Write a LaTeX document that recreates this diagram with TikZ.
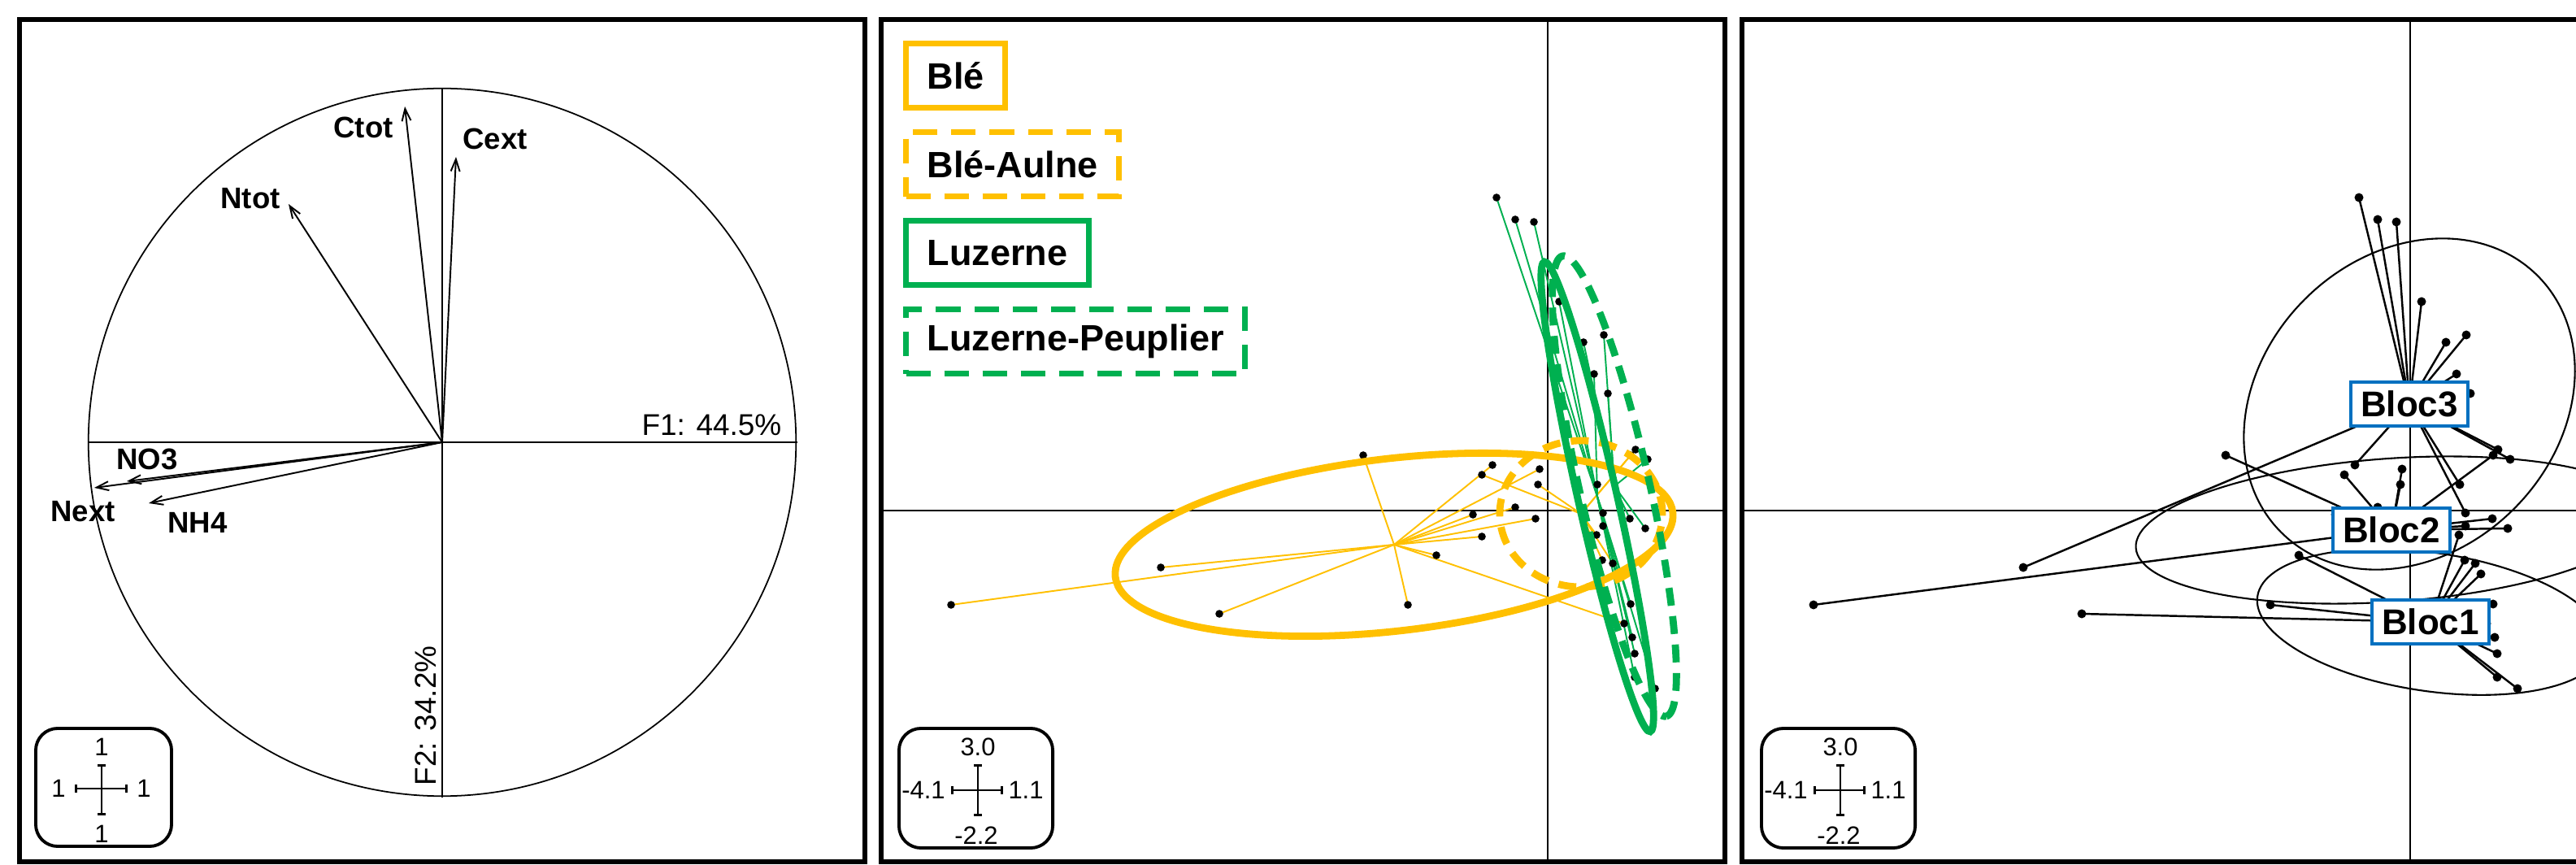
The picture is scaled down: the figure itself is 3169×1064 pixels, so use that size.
\documentclass[tikz,border=0pt]{standalone}
\usepackage{fontspec}
\setmainfont{Liberation Sans}
\usetikzlibrary{arrows.meta,positioning}

\definecolor{ble}{HTML}{FFC000}
\definecolor{luz}{HTML}{00B050}
\definecolor{bloc}{HTML}{0070C0}

% sample scores (pixel positions in the middle panel)
\newcommand{\ordpts}{1/1841/243, 2/1864/270, 3/1887/273, 4/1918/371, 5/1948/421,
    6/1973/412, 7/1961/460, 8/1978/484, 9/2012/553, 10/2006/560, 11/2027/565,
    12/1965/596, 13/1972/631, 14/2005/638, 15/2024/650, 16/1964/658, 17/1971/689,
    18/1984/693, 19/1991/706, 20/2006/743, 21/1998/767, 22/2008/784, 23/2011/804,
    24/2011/833, 25/2036/847, 26/1677/560, 27/1836/572, 28/1823/584, 29/1894/577,
    30/1892/596, 31/1864/624, 32/1812/633, 33/1889/638, 34/1823/660, 35/1767/683,
    36/1428/698, 37/1170/744, 38/1500/755, 39/1732/744, 40/1972/647}

\begin{document}
\begin{tikzpicture}[
            x=0.01cm, y=-0.01cm,
            every node/.style={inner sep=0pt, font=\fontsize{10.4}{12}\selectfont},
            frame/.style={draw, line width=1.7pt},
            axisline/.style={line width=0.6pt}
        ]

        % Define styles for nodes and lines
        \tikzset{
            varlabel/.style={font=\fontsize{10.4}{12}\selectfont\bfseries},
            vec/.style={line width=0.55pt, -{Straight Barb[length=0.15cm, width=0.11cm]}},
            scalebox/.style={draw, line width=1.1pt, rounded corners=0.27cm},
            scalenum/.style={font=\fontsize{8.8}{10}\selectfont},
            scalebar/.style={line width=0.8pt, {Bar[width=0.1cm]}-{Bar[width=0.1cm]}},
            legbox/.style={draw, line width=2pt, minimum height=0.79cm, inner xsep=0.26cm, font=\fontsize{12.8}{15}\selectfont\bfseries},
            legdash/.style={legbox, dash pattern=on 0.3cm off 0.17cm},
            starble/.style={draw=ble, line width=0.55pt},
            starluz/.style={draw=luz, line width=0.55pt},
            bigell/.style={line width=2.5pt},
            ellidash/.style={bigell, dash pattern=on 0.22cm off 0.13cm},
            blocbox/.style={draw=bloc, fill=white, line width=0.9pt, minimum width=1.44cm, minimum height=0.54cm, font=\fontsize{12.5}{15}\selectfont\bfseries},
            starbloc/.style={line width=0.7pt},
            thinell/.style={line width=0.6pt}
        }

        \useasboundingbox (0,0) rectangle (3169,1064);
        \clip (0,0) rectangle (3169,1064);

        % Panel 1: correlation circle
        \draw[frame] (24,24) rectangle (1064,1060);
        \coordinate (c0) at (544,544);
        \draw[line width=0.5pt] (c0) circle (4.35cm);
        \draw[axisline] (109,544) -- (981,544);
        \draw[axisline] (544,108) -- (544,981);
        \node[anchor=base east, font=\fontsize{10.5}{12}\selectfont] (f1) at (962,536) {F1: 44.5\%};
        \node[anchor=base west, rotate=90, font=\fontsize{10.5}{12}\selectfont] (f2) at (536,967) {F2: 34.2\%};
        \foreach \v/\tx/\ty/\lx/\ly in {Ctot/498/131/447/157, Cext/561/193/609/171,
                Ntot/355/251/308/244, NO3/156/592/181/565, Next/116/600/102/629, NH4/183/619/243/643} {
            \coordinate (t\v) at (\tx,\ty);
            \draw[vec] (c0) -- (t\v);
            \node[varlabel] (l\v) at (\lx,\ly) {\v};
        }
        % scale of panel 1
        \node[scalebox, minimum width=1.67cm, minimum height=1.45cm] (sca) at (127.5,968.5) {};
        \draw[scalebar] (92,970) -- (157,970);
        \draw[scalebar] (125,940) -- (125,1003);
        \node[scalenum] (scaT) at (125,919) {1};
        \node[scalenum] (scaB) at (125,1026) {1};
        \node[scalenum] (scaL) at (72,970) {1};
        \node[scalenum] (scaR) at (177,970) {1};

        % Panels 2 and 3: frames, axes and scales
        \draw[frame] (1084,24) rectangle (2122,1060);
        \draw[frame] (2143,24) rectangle (3183,1060);
        \draw[axisline] (1084,628) -- (2122,628);
        \draw[axisline] (1904,24) -- (1904,1060);
        \draw[axisline] (2143,628) -- (3169,628);
        \draw[axisline] (2965,24) -- (2965,1060);
        \foreach \dx/\nm in {0/b, 1061/c} {
            \node[scalebox, minimum width=1.89cm, minimum height=1.47cm] (sc\nm) at ({1200.5+\dx},969.5) {};
            \draw[scalebar] ({1170+\dx},972) -- ({1234+\dx},972);
            \draw[scalebar] ({1203+\dx},940) -- ({1203+\dx},1004);
            \node[scalenum] (sc\nm T) at ({1203+\dx},919) {3.0};
            \node[scalenum] (sc\nm B) at ({1201+\dx},1028) {-2.2};
            \node[scalenum] (sc\nm L) at ({1136+\dx},972) {-4.1};
            \node[scalenum] (sc\nm R) at ({1262+\dx},972) {1.1};
        }

        % sample points (p: panel 2, q: panel 3)
        \foreach \i/\px/\py in \ordpts {
            \coordinate (p\i) at (\px,\py);
            \coordinate (q\i) at ({\px+1061},\py);
        }

        % Panel 2: treatments
        \coordinate (cBle) at (1715,670);
        \coordinate (cBA) at (1945,632);
        \coordinate (cLuz) at (1965,611);
        \coordinate (cLP) at (1986,598);
        \foreach \i in {21,26,27,29,31,32,33,34,35,36,37,38,39}
            \draw[starble] (cBle) -- (p\i);
        \foreach \i in {9,10,16,17,18,28,30}
            \draw[starble] (cBA) -- (p\i);
        \foreach \i in {1,2,3,4,7,12,13,19,20,22,23,24,25,40}
            \draw[starluz] (cLuz) -- (p\i);
        \foreach \i in {5,6,8,11,14,15}
            \draw[starluz] (cLP) -- (p\i);
        \foreach \i in {1,...,40}
            \fill (p\i) circle (0.048cm);
        \draw[bigell, ble, rotate around={6.6:(cBle)}] (cBle) ellipse [x radius=3.45cm, y radius=1.06cm];
        \draw[ellidash, ble] (cBA) ellipse [x radius=1.0cm, y radius=0.9cm];
        \draw[bigell, luz, rotate around={-77.3:(cLuz)}] (cLuz) ellipse [x radius=2.96cm, y radius=0.24cm];
        \draw[ellidash, luz, rotate around={-77.3:(cLP)}] (cLP) ellipse [x radius=2.9cm, y radius=0.43cm];

        % legend
        \node[legbox, draw=ble, anchor=west] (legBle) at (1111,93) {Blé};
        \node[legdash, draw=ble, below right=0.23cm and 0cm of legBle.south west] (legBA) {Blé-Aulne};
        \node[legbox, draw=luz, below right=0.23cm and 0cm of legBA.south west] (legLuz) {Luzerne};
        \node[legdash, draw=luz, below right=0.23cm and 0cm of legLuz.south west] (legLP) {Luzerne-Peuplier};

        % Panel 3: blocks
        \coordinate (cB3) at (2964,497);
        \coordinate (cB2) at (2942,652);
        \coordinate (cB1) at (2990,765);
        \draw[thinell, rotate around={45:(cB3)}] (cB3) ellipse [x radius=2.23cm, y radius=1.82cm];
        \draw[thinell, rotate around={4:(cB2)}] (cB2) ellipse [x radius=3.15cm, y radius=0.88cm];
        \draw[thinell, rotate around={-8.4:(cB1)}] (cB1) ellipse [x radius=2.15cm, y radius=0.85cm];
        \foreach \i in {1,2,3,4,5,6,7,8,9,11,12,13,27,36}
            \draw[starbloc] (cB3) -- (q\i);
        \foreach \i in {10,14,15,26,28,29,30,31,32,33,34,37,40}
            \draw[starbloc] (cB2) -- (q\i);
        \foreach \i in {16,17,18,19,20,21,22,23,24,25,35,38,39}
            \draw[starbloc] (cB1) -- (q\i);
        \foreach \i in {1,...,40}
            \fill (q\i) circle (0.055cm);
        \node[blocbox] (bloc3) at (cB3) {Bloc3};
        \node[blocbox] (bloc2) at (cB2) {Bloc2};
        \node[blocbox] (bloc1) at (cB1) {Bloc1};

        \end{tikzpicture}
\end{document}
